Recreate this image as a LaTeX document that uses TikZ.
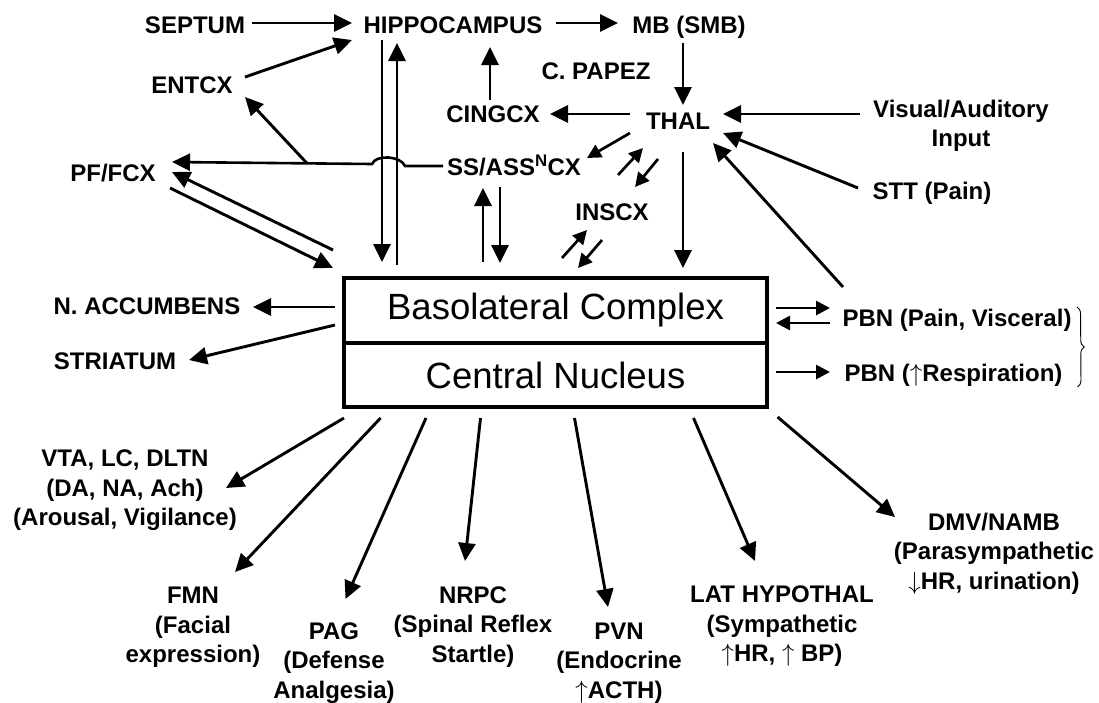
\documentclass[tikz,border=0pt]{standalone}
\usepackage{fontspec}
\setmainfont{Liberation Sans}
\usetikzlibrary{arrows.meta,calc,decorations.pathreplacing}
\newcommand{\upar}{\ensuremath{\uparrow}}
\newcommand{\dnar}{\ensuremath{\downarrow}}
\begin{document}
\begin{tikzpicture}[x=1pt,y=-1pt,
  lbl/.style={font=\bfseries\fontsize{24}{29.5}\selectfont, align=center, inner sep=0pt, outer sep=0pt},
  sl/.style={lbl, text height=17.2pt, text depth=0pt},
  boxrow/.style={draw, line width=4pt, minimum width=423pt, inner sep=0pt, outer sep=0pt, font=\fontsize{36.5}{40}\selectfont},
  arr/.style={line width=2.9pt, -{Triangle[length=18pt,width=17pt]}},
  sarr/.style={line width=2.7pt, -{Triangle[length=14pt,width=14pt]}},
  ln/.style={line width=2.6pt},
]
\fill[white] (0,0) rectangle (1099,702);
\useasboundingbox (0,0) rectangle (1099,702);

% labels
\node[sl] (septum) at (195,25) {SEPTUM};
\node[sl] (hippo) at (453,25) {HIPPOCAMPUS};
\node[sl] (mb) at (689,25) {MB (SMB)};
\node[sl] (papez) at (596,71) {C. PAPEZ};
\node[sl] (entcx) at (192,85) {ENTCX};
\node[sl] (cingcx) at (493,114) {CINGCX};
\node[sl] (thal) at (678,121) {THAL};
\node[lbl] (visual) at (961,126) {Visual/Auditory\\Input};
\node[sl] (pffcx) at (113,173) {PF/FCX};
\node[sl] (ss) at (514,167) {SS/ASS\textsuperscript{N}CX};
\node[sl] (stt) at (932,191) {STT (Pain)};
\node[sl] (inscx) at (612,212) {INSCX};
\node[sl] (nacc) at (147,306) {N. ACCUMBENS};
\node[sl] (striatum) at (115,361) {STRIATUM};
\node[boxrow, minimum height=65pt] (bla) at (555.5,310.5) {Basolateral Complex};
\node[boxrow, minimum height=64pt] (cen) at (555.5,375) {Central Nucleus};
\node[sl] (pbn1) at (957,318) {PBN (Pain, Visceral)};
\node[sl] (pbn2) at (953.5,373) {PBN (\upar Respiration)};
\node[lbl] (vta) at (125,490.5) {VTA, LC, DLTN\\(DA, NA, Ach)\\(Arousal, Vigilance)};
\node[lbl] (fmn) at (193,627.5) {FMN\\(Facial\\expression)};
\node[lbl] (pag) at (334,663) {PAG\\(Defense\\Analgesia)};
\node[lbl] (nrpc) at (473,627) {NRPC\\(Spinal Reflex\\Startle)};
\node[lbl] (pvn) at (619,663) {PVN\\(Endocrine\\\upar ACTH)};
\node[lbl] (lat) at (782,626.5) {LAT HYPOTHAL\\(Sympathetic\\\upar HR, \upar\ BP)};
\node[lbl] (dmv) at (994,553.5) {DMV/NAMB\\(Parasympathetic\\\dnar HR, urination)};

% brace
\draw[line width=0.9pt, decorate, decoration={brace, amplitude=7pt}]
  ([shift={(120,-11)}]pbn1.center) -- ([shift={(124,14)}]pbn2.center);

% top connectors
\draw[arr] ([shift={(57,-2)}]septum.center) -- ([shift={(-101,-2)}]hippo.center);
\draw[arr] ([shift={(53,-8)}]entcx.center) -- ([shift={(-101,15)}]hippo.center);
\draw[ln, -{Triangle[length=18pt,width=17pt]}] ([shift={(-71,-1)}]ss.center) -- ++(-38,0)
  .. controls +(-4,-10) and +(4,-10) .. ++(-33,-2) -- ([shift={(59,-11)}]pffcx.center);
\coordinate (jn) at (307,163.3);
\draw[arr] (jn) -- ([shift={(53,12)}]entcx.center);
\draw[arr] ([shift={(-11,-28)}]bla.north west) -- ([shift={(59,-1)}]pffcx.center);
\draw[arr] ([shift={(57,15)}]pffcx.center) -- ([shift={(-11,-10)}]bla.north west);
\draw[arr] ([shift={(-71,15)}]hippo.center) -- ([shift={(38,-16)}]bla.north west);
\draw[arr] ([shift={(53,-13)}]bla.north west) -- ([shift={(-56,18)}]hippo.center);
\draw[arr] ([shift={(103,-2)}]hippo.center) -- ([shift={(-71,-2)}]mb.center);
\draw[arr] ([shift={(-6,18)}]mb.center) -- ([shift={(5,-16)}]thal.center);
\draw[arr] ([shift={(-3,-14)}]cingcx.center) -- ([shift={(37,22)}]hippo.center);
\draw[arr] ([shift={(-48,-7)}]thal.center) -- ([shift={(57,0)}]cingcx.center);
\draw[sarr] ([shift={(-48,12)}]thal.center) -- ([shift={(73,-9)}]ss.center);
\draw[arr] ([shift={(139,-16)}]bla.north west) -- ([shift={(-31,21)}]ss.center);
\draw[arr] ([shift={(-14,20)}]ss.center) -- ([shift={(156,-15)}]bla.north west);
\draw[sarr] ([shift={(6,-37)}]inscx.center) -- ([shift={(-35,27)}]thal.center);
\draw[sarr] ([shift={(-20,38)}]thal.center) -- ([shift={(23,-25)}]inscx.center);
\draw[sarr] ([shift={(218,-20)}]bla.north west) -- ([shift={(-25,18)}]inscx.center);
\draw[sarr] ([shift={(-10,28)}]inscx.center) -- ([shift={(234,-10)}]bla.north west);
\draw[arr] ([shift={(5,31)}]thal.center) -- ([shift={(339,-10)}]bla.north west);
\draw[arr] ([shift={(-101,-12)}]visual.center) -- ([shift={(45,-7)}]thal.center);
\draw[arr] ([shift={(-74,-3)}]stt.center) -- ([shift={(45,12)}]thal.center);
\draw[arr] ([shift={(-114,-31)}]pbn1.center) -- ([shift={(35,22)}]thal.center);

% side connectors
\draw[arr] ([shift={(-9,29)}]bla.north west) -- ([shift={(106,1)}]nacc.center);
\draw[arr] ([shift={(-9,47)}]bla.north west) -- ([shift={(74,-1)}]striatum.center);
\draw[sarr] ([shift={(9,30)}]bla.north east) -- ([shift={(-127,-10)}]pbn1.center);
\draw[sarr] ([shift={(-127,5)}]pbn1.center) -- ([shift={(9,45)}]bla.north east);
\draw[sarr] ([shift={(9,-35)}]cen.south east) -- ([shift={(-123.5,-1)}]pbn2.center);

% bottom connectors
\draw[arr] ([shift={(0,11)}]cen.south west) -- ([shift={(101,-2.5)}]vta.center);
\draw[arr] ([shift={(36.6,11)}]cen.south west) -- ([shift={(42,-55.5)}]fmn.center);
\draw[arr] ([shift={(82,11)}]cen.south west) -- ([shift={(11.5,-64)}]pag.center);
\draw[arr] ([shift={(136.5,11)}]cen.south west) -- ([shift={(-8,-66)}]nrpc.center);
\draw[arr] ([shift={(230.5,11)}]cen.south west) -- ([shift={(-11,-56)}]pvn.center);
\draw[arr] ([shift={(349.5,11)}]cen.south west) -- ([shift={(-27,-65.5)}]lat.center);
\draw[arr] ([shift={(10.6,10)}]cen.south east) -- ([shift={(-99,-36.5)}]dmv.center);
\end{tikzpicture}
\end{document}
